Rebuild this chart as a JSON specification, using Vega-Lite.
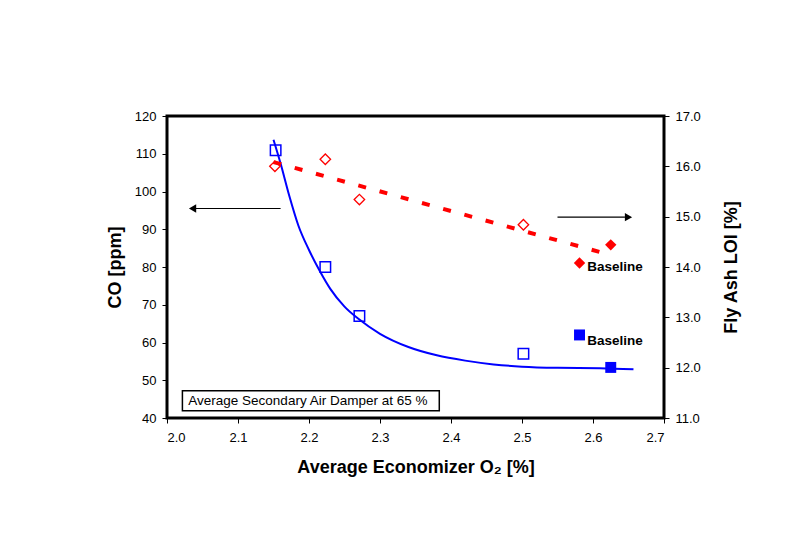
{
  "$schema": "https://vega.github.io/schema/vega-lite/v6.json",
  "width": 497,
  "height": 302,
  "autosize": {"type": "none"},
  "padding": {"left": 167, "top": 116, "right": 135, "bottom": 142},
  "background": "white",
  "config": {
    "font": "Liberation Sans",
    "view": {"stroke": "black", "strokeWidth": 3},
    "axis": {
      "grid": false,
      "domain": false,
      "tickColor": "black",
      "tickSize": 5,
      "labelColor": "black",
      "labelFont": "Liberation Sans",
      "labelFontSize": 13,
      "labelOverlap": false,
      "titleFont": "Liberation Sans",
      "titleFontSize": 18,
      "titleFontWeight": "bold",
      "titleColor": "black",
      "labelPadding": 6
    }
  },
  "datasets": {
    "co_pts": [
      {"o2": 2.153, "co": 110.9, "type": "test"},
      {"o2": 2.223, "co": 80.0, "type": "test"},
      {"o2": 2.271, "co": 67.0, "type": "test"},
      {"o2": 2.502, "co": 57.0, "type": "test"},
      {"o2": 2.581, "co": 62.0, "type": "baseline"},
      {"o2": 2.625, "co": 53.4, "type": "baseline"}
    ],
    "co_fit": [
      {"o2": 2.150, "co": 113.7},
      {"o2": 2.160, "co": 107.4},
      {"o2": 2.172, "co": 99.0},
      {"o2": 2.185, "co": 91.0},
      {"o2": 2.200, "co": 84.5},
      {"o2": 2.215, "co": 79.0},
      {"o2": 2.230, "co": 74.2},
      {"o2": 2.250, "co": 69.5},
      {"o2": 2.270, "co": 66.2},
      {"o2": 2.300, "co": 62.3},
      {"o2": 2.340, "co": 58.8},
      {"o2": 2.380, "co": 56.6},
      {"o2": 2.420, "co": 55.2},
      {"o2": 2.460, "co": 54.2},
      {"o2": 2.500, "co": 53.6},
      {"o2": 2.550, "co": 53.3},
      {"o2": 2.610, "co": 53.2},
      {"o2": 2.657, "co": 52.9}
    ],
    "loi_pts": [
      {"o2": 2.152, "loi": 16.0, "type": "test"},
      {"o2": 2.223, "loi": 16.14, "type": "test"},
      {"o2": 2.271, "loi": 15.34, "type": "test"},
      {"o2": 2.502, "loi": 14.84, "type": "test"},
      {"o2": 2.581, "loi": 14.08, "type": "baseline"},
      {"o2": 2.625, "loi": 14.44, "type": "baseline"}
    ],
    "loi_fit": [
      {"o2": 2.150, "loi": 16.085},
      {"o2": 2.609, "loi": 14.30}
    ],
    "box": [
      {"o2": 2.0217, "o2b": 2.3835, "co": 47.24, "cob": 41.94}
    ],
    "box_text": [
      {"o2": 2.030, "co": 44.6, "label": "Average Secondary Air Damper at 65 %"}
    ],
    "left_arrow": [
      {"o2": 2.160, "o2b": 2.040, "co": 95.5}
    ],
    "left_tip": [
      {"o2": 2.036, "co": 95.5}
    ],
    "right_arrow": [
      {"o2": 2.550, "o2b": 2.645, "loi": 14.99}
    ],
    "right_tip": [
      {"o2": 2.650, "loi": 14.99}
    ],
    "co_base_label": [{"o2": 2.592, "co": 60.5, "label": "Baseline"}],
    "loi_base_label": [{"o2": 2.592, "loi": 14.0, "label": "Baseline"}]
  },
  "encoding": {
    "x": {
      "field": "o2",
      "type": "quantitative",
      "scale": {"domain": [2.0, 2.7], "nice": false, "zero": false},
      "axis": {
        "values": [2.0, 2.1, 2.2, 2.3, 2.4, 2.5, 2.6, 2.7],
        "format": ".1f",
        "title": "Average Economizer O₂ [%]",
        "labelPadding": 8,
        "titlePadding": 14
      }
    }
  },
  "layer": [
    {
      "encoding": {
        "y": {
          "field": "co",
          "type": "quantitative",
          "scale": {"domain": [40, 120], "nice": false, "zero": false},
          "axis": {
            "orient": "left",
            "values": [40, 50, 60, 70, 80, 90, 100, 110, 120],
            "title": "CO [ppm]",
            "titlePadding": 10
          }
        }
      },
      "layer": [
        {
          "data": {"name": "box"},
          "mark": {"type": "rect", "fill": "white", "stroke": "black", "strokeWidth": 1.5},
          "encoding": {
            "x2": {"field": "o2b"},
            "y2": {"field": "cob"}
          }
        },
        {
          "data": {"name": "box_text"},
          "mark": {"type": "text", "align": "left", "baseline": "middle", "fontSize": 13.5, "color": "black"},
          "encoding": {
            "text": {"field": "label"}
          }
        },
        {
          "data": {"name": "co_fit"},
          "mark": {"type": "line", "color": "#0000FF", "strokeWidth": 2, "interpolate": "monotone", "clip": false}
        },
        {
          "data": {"name": "co_pts"},
          "transform": [{"filter": "datum.type === 'test'"}],
          "mark": {"type": "point", "shape": "square", "size": 110, "filled": false, "stroke": "#0000FF", "strokeWidth": 1.5, "opacity": 1}
        },
        {
          "data": {"name": "co_pts"},
          "transform": [{"filter": "datum.type === 'baseline'"}],
          "mark": {"type": "point", "shape": "square", "size": 120, "filled": true, "color": "#0000FF", "opacity": 1}
        },
        {
          "data": {"name": "left_arrow"},
          "mark": {"type": "rule", "color": "black", "strokeWidth": 1.2},
          "encoding": {
            "x2": {"field": "o2b"}
          }
        },
        {
          "data": {"name": "left_tip"},
          "mark": {"type": "point", "shape": "triangle-left", "size": 70, "filled": true, "color": "black", "opacity": 1}
        },
        {
          "data": {"name": "co_base_label"},
          "mark": {"type": "text", "align": "left", "baseline": "middle", "fontSize": 13.5, "fontWeight": "bold", "color": "black"},
          "encoding": {
            "text": {"field": "label"}
          }
        }
      ]
    },
    {
      "encoding": {
        "y": {
          "field": "loi",
          "type": "quantitative",
          "scale": {"domain": [11, 17], "nice": false, "zero": false},
          "axis": {
            "orient": "right",
            "values": [11, 12, 13, 14, 15, 16, 17],
            "format": ".1f",
            "title": "Fly Ash LOI [%]",
            "titleAngle": 270,
            "titleBaseline": "top",
            "titlePadding": 22
          }
        }
      },
      "layer": [
        {
          "data": {"name": "loi_fit"},
          "mark": {"type": "line", "color": "#FF0000", "strokeWidth": 4, "strokeDash": [8, 14]}
        },
        {
          "data": {"name": "loi_pts"},
          "transform": [{"filter": "datum.type === 'test'"}],
          "mark": {"type": "point", "shape": "diamond", "size": 110, "filled": false, "stroke": "#FF0000", "strokeWidth": 1.3, "opacity": 1}
        },
        {
          "data": {"name": "loi_pts"},
          "transform": [{"filter": "datum.type === 'baseline'"}],
          "mark": {"type": "point", "shape": "diamond", "size": 130, "filled": true, "color": "#FF0000", "opacity": 1}
        },
        {
          "data": {"name": "right_arrow"},
          "mark": {"type": "rule", "color": "black", "strokeWidth": 1.2},
          "encoding": {
            "x2": {"field": "o2b"}
          }
        },
        {
          "data": {"name": "right_tip"},
          "mark": {"type": "point", "shape": "triangle-right", "size": 70, "filled": true, "color": "black", "opacity": 1}
        },
        {
          "data": {"name": "loi_base_label"},
          "mark": {"type": "text", "align": "left", "baseline": "middle", "fontSize": 13.5, "fontWeight": "bold", "color": "black"},
          "encoding": {
            "text": {"field": "label"}
          }
        }
      ]
    }
  ],
  "resolve": {"scale": {"y": "independent"}}
}
